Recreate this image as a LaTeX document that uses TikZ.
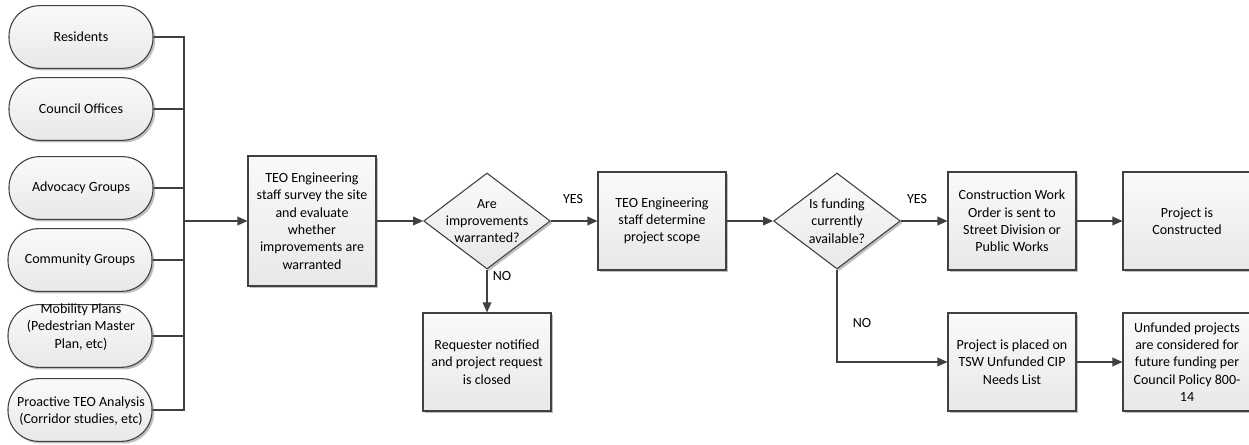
\documentclass[tikz,border=0pt]{standalone}
\usepackage{fontspec}
\setmainfont{Carlito}
\usetikzlibrary{shapes.geometric,shadows,arrows.meta}
\definecolor{lc}{HTML}{404040}
\begin{document}
\begin{tikzpicture}[x=0.75pt,y=-0.75pt,
  font=\fontsize{10.5}{13}\selectfont,
  shapefill/.style={draw=lc,line width=0.8pt,top color=black!2,bottom color=black!9,
    drop shadow={shadow xshift=1.6pt,shadow yshift=-1.6pt,opacity=0.25,fill=black}},
  oval/.style={shapefill,rectangle,rounded corners=23pt,minimum width=108pt,minimum height=47pt,inner sep=0pt},
  procbox/.style={shapefill,rectangle,minimum width=96pt,minimum height=73.5pt,inner sep=0pt},
  decision/.style={shapefill,diamond,minimum width=95pt,minimum height=72pt,inner sep=0pt},
  txt/.style={align=center,inner sep=0pt},
  conn/.style={draw=lc,line width=1pt},
  arr/.style={conn,-{Triangle[length=7.5pt,width=6.5pt]}},
  lbl/.style={inner sep=0pt}]
\useasboundingbox (0,0) rectangle (1249,445);

% sources
\node[oval] (res) at (81,37) {};
\node[txt] at (res.center) {Residents};
\node[oval] (cou) at (81,109) {};
\node[txt] at (cou.center) {Council Offices};
\node[oval] (adv) at (81,188) {};
\node[txt] at (adv.center) {Advocacy Groups};
\node[oval] (com) at (80,260) {};
\node[txt] at (com.center) {Community Groups};
\node[oval] (mob) at (80,336) {};
\node[txt] at (81,327) {Mobility Plans\\(Pedestrian Master\\Plan, etc)};
\node[oval] (pro) at (80,410) {};
\node[txt] at (81,411) {Proactive TEO Analysis\\(Corridor studies, etc)};

% main flow
\node[procbox,minimum height=97.5pt] (b1) at (312,221) {};
\node[txt] at (b1.center) {TEO Engineering\\staff survey the site\\and evaluate\\whether\\improvements are\\warranted};
\node[decision] (d1) at (487,221) {};
\node[txt] at (d1.center) {Are\\improvements\\warranted?};
\node[procbox] (b2) at (662,221) {};
\node[txt] at (b2.center) {TEO Engineering\\staff determine\\project scope};
\node[procbox] (b3) at (487,362) {};
\node[txt] at (b3.center) {Requester notified\\and project request\\is closed};
\node[decision] (d2) at (837,221) {};
\node[txt] at (d2.center) {Is funding\\currently\\available?};
\node[procbox] (b4) at (1012,221) {};
\node[txt] at (b4.center) {Construction Work\\Order is sent to\\Street Division or\\Public Works};
\node[procbox] (b5) at (1187,221) {};
\node[txt] at (b5.center) {Project is\\Constructed};
\node[procbox] (b6) at (1012,362) {};
\node[txt] at (b6.center) {Project is placed on\\TSW Unfunded CIP\\Needs List};
\node[procbox] (b7) at (1187,362) {};
\node[txt] at (b7.center) {Unfunded projects\\are considered for\\future funding per\\Council Policy 800-\\14};

% bus
\coordinate (bus) at (184,221);
\draw[conn] (res.east) -| (bus);
\draw[conn] (cou.east) -| (bus);
\draw[conn] (adv.east) -| (bus);
\draw[conn] (com.east) -| (bus);
\draw[conn] (mob.east) -| (bus);
\draw[conn] (pro.east) -| (bus);
\draw[arr] (bus) -- (b1.west);

% connectors
\draw[arr] (b1.east) -- (d1.west);
\draw[arr] (d1.east) -- (b2.west);
\draw[arr] (d1.south) -- (b3.north);
\draw[arr] (b2.east) -- (d2.west);
\draw[arr] (d2.east) -- (b4.west);
\draw[arr] (b4.east) -- (b5.west);
\draw[arr] (d2.south) |- (b6.west);
\draw[arr] (b6.east) -- (b7.west);

% labels
\node[lbl] (y1) at (573,199) {YES};
\node[lbl] (n1) at (502,276) {NO};
\node[lbl] (y2) at (917,199) {YES};
\node[lbl] (n2) at (862,323) {NO};
\end{tikzpicture}
\end{document}
